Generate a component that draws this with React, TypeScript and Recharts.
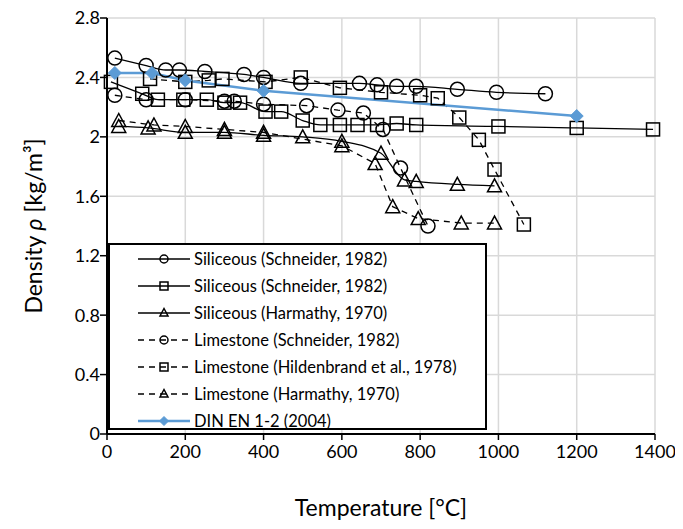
import React from 'react';
import { LineChart, Line, XAxis, YAxis, CartesianGrid, Legend } from 'recharts';

// Axis ticks
const tempTicks = [0, 200, 400, 600, 800, 1000, 1200, 1400];
const densityTicks = [0, 0.4, 0.8, 1.2, 1.6, 2, 2.4, 2.8];

// Siliceous (Schneider, 1982) – circles
const silSchneiderCircT = [20, 100, 150, 185, 250, 350, 400, 495, 645, 690, 740, 790, 895, 995, 1120];
const silSchneiderCircRho = [2.53, 2.48, 2.45, 2.45, 2.44, 2.42, 2.40, 2.36, 2.36, 2.35, 2.34, 2.34, 2.32, 2.30, 2.29];

// Siliceous (Schneider, 1982) – squares
const silSchneiderSqT = [10, 90, 130, 195, 255, 300, 340, 405, 445, 500, 545, 595, 640, 690, 740, 790, 1000, 1200, 1395];
const silSchneiderSqRho = [2.37, 2.29, 2.25, 2.25, 2.25, 2.23, 2.23, 2.17, 2.17, 2.11, 2.08, 2.08, 2.08, 2.08, 2.09, 2.08, 2.07, 2.06, 2.05];

// Siliceous (Harmathy, 1970)
const silHarmathyT = [30, 105, 200, 300, 400, 500, 600, 700, 760, 790, 895, 990];
const silHarmathyRho = [2.07, 2.06, 2.03, 2.03, 2.01, 2.00, 1.97, 1.89, 1.71, 1.70, 1.68, 1.67];

// Limestone (Schneider, 1982)
const limSchneiderT = [20, 100, 200, 300, 325, 400, 510, 590, 655, 705, 750, 820];
const limSchneiderRho = [2.28, 2.25, 2.25, 2.24, 2.24, 2.22, 2.21, 2.18, 2.16, 2.05, 1.79, 1.40];

// Limestone (Hildenbrand et al., 1978)
const limHildenbrandT = [110, 200, 260, 295, 405, 495, 595, 700, 800, 845, 900, 950, 990, 1065];
const limHildenbrandRho = [2.39, 2.37, 2.38, 2.39, 2.37, 2.40, 2.33, 2.30, 2.28, 2.26, 2.13, 1.98, 1.78, 1.41];

// Limestone (Harmathy, 1970)
const limHarmathyT = [30, 120, 200, 300, 400, 600, 685, 730, 795, 905, 990];
const limHarmathyRho = [2.11, 2.08, 2.07, 2.05, 2.03, 1.94, 1.82, 1.53, 1.45, 1.42, 1.42];

// DIN EN 1-2 (2004)
const dinT = [20, 115, 200, 400, 1200];
const dinRho = [2.43, 2.43, 2.38, 2.31, 2.14];

const zip = (t: number[], r: number[]) => t.map((x, i) => ({ x, y: r[i] }));

const FONT = 'Lato, "Open Sans", sans-serif';
const BLUE = '#5b9bd5';

type Shape = 'circle' | 'square' | 'triangle' | 'diamond';

const drawMarker = (shape: Shape, cx: number, cy: number, s: number, key?: string | number) => {
  if (shape === 'circle') {
    return <circle key={key} cx={cx} cy={cy} r={s} fill="none" stroke="#000" strokeWidth={1.5} />;
  }
  if (shape === 'square') {
    return <rect key={key} x={cx - s} y={cy - s} width={2 * s} height={2 * s} fill="none" stroke="#000" strokeWidth={1.5} />;
  }
  if (shape === 'triangle') {
    const h = s * 0.85;
    return (
      <polygon
        key={key}
        points={`${cx},${cy - s} ${cx - s},${cy + h} ${cx + s},${cy + h}`}
        fill="none"
        stroke="#000"
        strokeWidth={1.5}
        strokeLinejoin="miter"
      />
    );
  }
  return (
    <polygon
      key={key}
      points={`${cx},${cy - s} ${cx + s},${cy} ${cx},${cy + s} ${cx - s},${cy}`}
      fill={BLUE}
      stroke={BLUE}
      strokeWidth={1}
    />
  );
};

const dotFor = (shape: Shape, size: number) => (props: any) => {
  const { cx, cy, index } = props;
  if (cx == null || cy == null) return <g key={`d-${index}`} />;
  return drawMarker(shape, cx, cy, size, `d-${index}`);
};

interface Series {
  name: string;
  data: { x: number; y: number }[];
  shape: Shape;
  dashed: boolean;
  color: string;
  width: number;
  curve: 'linear' | 'monotone';
}

const series: Series[] = [
  { name: 'Siliceous (Schneider, 1982)', data: zip(silSchneiderCircT, silSchneiderCircRho), shape: 'circle', dashed: false, color: '#000', width: 1.3, curve: 'monotone' },
  { name: 'Siliceous (Schneider, 1982)', data: zip(silSchneiderSqT, silSchneiderSqRho), shape: 'square', dashed: false, color: '#000', width: 1.3, curve: 'monotone' },
  { name: 'Siliceous (Harmathy, 1970)', data: zip(silHarmathyT, silHarmathyRho), shape: 'triangle', dashed: false, color: '#000', width: 1.3, curve: 'monotone' },
  { name: 'Limestone (Schneider, 1982)', data: zip(limSchneiderT, limSchneiderRho), shape: 'circle', dashed: true, color: '#000', width: 1.3, curve: 'linear' },
  { name: 'Limestone (Hildenbrand et al., 1978)', data: zip(limHildenbrandT, limHildenbrandRho), shape: 'square', dashed: true, color: '#000', width: 1.3, curve: 'linear' },
  { name: 'Limestone (Harmathy, 1970)', data: zip(limHarmathyT, limHarmathyRho), shape: 'triangle', dashed: true, color: '#000', width: 1.3, curve: 'linear' },
  { name: 'DIN EN 1-2 (2004)', data: zip(dinT, dinRho), shape: 'diamond', dashed: false, color: BLUE, width: 2.5, curve: 'linear' },
];

const markerSize = (shape: Shape) => (shape === 'circle' ? 7 : shape === 'square' ? 6.5 : shape === 'triangle' ? 7 : 6.5);

const LegendBox = () => (
  <div
    style={{
      position: 'relative',
      width: 379,
      height: 187,
      boxSizing: 'border-box',
      border: '2px solid #000',
      background: '#fff',
      fontFamily: FONT,
      fontSize: 16.5,
      color: '#000',
    }}
  >
    {series.map((s, i) => {
      const cy = 13.5 + i * 27.1;
      return (
        <div key={i} style={{ position: 'absolute', left: 0, top: cy - 12, height: 24, width: 375 }}>
          <svg width={80} height={24} style={{ position: 'absolute', left: 26, top: 0 }}>
            <line
              x1={2}
              x2={54}
              y1={12}
              y2={12}
              stroke={s.color}
              strokeWidth={s.shape === 'diamond' ? 2.5 : 1.5}
              strokeDasharray={s.dashed ? '6 5' : undefined}
            />
            {drawMarker(s.shape, 28, 12 + (s.shape === 'triangle' ? -0.5 : 0), s.shape === 'diamond' ? 4.5 : 4)}
          </svg>
          <span style={{ position: 'absolute', left: 84, top: 0, lineHeight: '24px', whiteSpace: 'nowrap' }}>{s.name}</span>
        </div>
      );
    })}
  </div>
);

const YTitle = (props: any) => {
  const vb = props.viewBox || {};
  const cy = (vb.y ?? 10) + (vb.height ?? 416) / 2;
  return (
    <text
      x={25}
      y={cy}
      transform={`rotate(-90, 25, ${cy})`}
      textAnchor="middle"
      dominantBaseline="central"
      fontFamily={FONT}
      fontSize={23}
      fill="#000"
    >
      Density <tspan fontStyle="italic">ρ</tspan> [kg/m³]
    </text>
  );
};

const XTitle = (props: any) => {
  const vb = props.viewBox || {};
  const cx = (vb.x ?? 99) + (vb.width ?? 548) / 2;
  return (
    <text x={cx} y={499} textAnchor="middle" dominantBaseline="central" fontFamily={FONT} fontSize={23} fill="#000">
      Temperature [°C]
    </text>
  );
};

const fmt = (v: number) => String(parseFloat(v.toFixed(1)));

export default function App() {
  return (
    <div>
      {/* let tick labels near the top edge render outside the svg box */}
      <style>{`.recharts-surface { overflow: visible; }`}</style>
      <LineChart width={675} height={513} margin={{ top: 10, right: 28, left: 0, bottom: 27 }}>
        <CartesianGrid stroke="#d9d9d9" strokeWidth={1.5} />
        <XAxis
          type="number"
          dataKey="x"
          domain={[0, 1400]}
          ticks={tempTicks}
          interval={0}
          height={60}
          axisLine={{ stroke: '#000', strokeWidth: 2 }}
          tickLine={{ stroke: '#000', strokeWidth: 1.5 }}
          tickSize={6}
          tickMargin={5}
          tick={{ fill: '#000', fontSize: 18, fontFamily: FONT }}
          label={<XTitle />}
        />
        <YAxis
          type="number"
          dataKey="y"
          domain={[0, 2.8]}
          ticks={densityTicks}
          interval={0}
          width={99}
          tickFormatter={fmt}
          axisLine={{ stroke: '#000', strokeWidth: 2 }}
          tickLine={{ stroke: '#000', strokeWidth: 1.5 }}
          tickSize={7}
          tickMargin={0}
          tick={{ fill: '#000', fontSize: 18, fontFamily: FONT }}
          label={<YTitle />}
        />
        {series.map((s, i) => (
          <Line
            key={i}
            data={s.data}
            dataKey="y"
            name={s.name}
            type={s.curve}
            stroke={s.color}
            strokeWidth={s.width}
            strokeDasharray={s.dashed ? '6 5' : undefined}
            dot={dotFor(s.shape, markerSize(s.shape))}
            activeDot={false}
            isAnimationActive={false}
            legendType="none"
          />
        ))}
        <Legend
          layout="vertical"
          align="center"
          verticalAlign="middle"
          content={() => <LegendBox />}
          wrapperStyle={{ left: 100, top: 235, width: 379, height: 187 }}
        />
      </LineChart>
    </div>
  );
}
